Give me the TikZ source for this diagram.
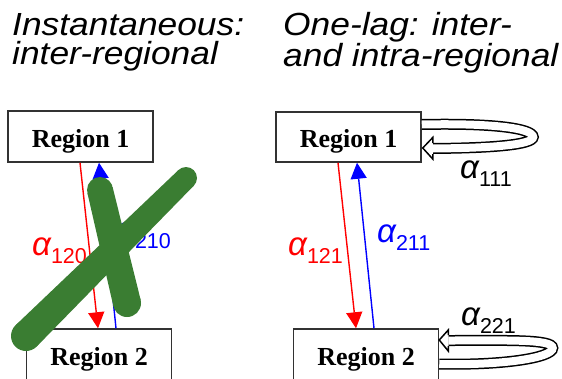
\documentclass[tikz,border=0pt]{standalone}
\usepackage{fontspec}
\setmainfont{Liberation Sans}
\newfontfamily\rgfont{Liberation Serif}
\usetikzlibrary{arrows.meta,calc}
\definecolor{xgreen}{RGB}{58,125,50}
\definecolor{boxgray}{RGB}{50,50,50}
\newcommand\myalpha[1]{{\itshape\fontsize{33}{33}\selectfont α}{\fontsize{21.5}{21.5}\selectfont\raisebox{-8pt}{#1}}}
\newcommand\wide[1]{\scalebox{1.105}[1]{#1}}
\begin{document}
\begin{tikzpicture}[x=1pt,y=-1pt,
  region/.style={draw=boxgray,line width=1.5pt,minimum width=145pt,minimum height=51pt,inner sep=0pt,text height=21pt,text depth=0pt,font=\rgfont\bfseries\fontsize{26}{26}\selectfont},
  title/.style={anchor=north west,inner sep=0pt,align=left,font=\itshape\fontsize{32}{29}\selectfont},
  link/.style={line width=1.4pt,-{Triangle[length=16pt,width=16pt]}},
  lbl/.style={anchor=base west,inner sep=0pt},
  loopline/.style={draw=black,line width=1.5pt,double=white,double distance=8pt},
  loophead/.style={draw=black,line width=1.5pt,fill=white,line join=miter}
]
\useasboundingbox (0,0) rectangle (562,378);

% titles
\node[title] (t1) at (12,13) {\wide{Instantaneous:}\\\wide{inter-regional}};
\node[title] (t2) at (283,12.5) {\wide{One-lag: inter-}\\\wide{and intra-regional}};

% boxes
\node[region] (L1) at (80.5,136.5) {Region 1};
\node[region] (L2) at (99,354.5) {Region 2};
\node[region,minimum height=50pt] (R1) at (348.5,137) {Region 1};
\node[region] (R2) at (366,354.5) {Region 2};

% left connectors
\draw[link,red] ([xshift=-0.5pt]L1.south) -- ([xshift=-1pt]L2.north);
\draw[link,blue] ([xshift=17pt]L2.north) -- ([xshift=18.5pt]L1.south);
\node[lbl,red] (la) at (32,255) {\myalpha{120}};
\node[lbl,blue] (lb) at (116,240) {\myalpha{210}};

% right connectors
\draw[link,red] ([xshift=-10.5pt]R1.south) -- ([xshift=-10pt]R2.north);
\draw[link,blue] ([xshift=8pt]R2.north) -- ([xshift=8.5pt]R1.south);
\node[lbl,red] (ra) at (288,255) {\myalpha{121}};
\node[lbl,blue] (rb) at (377,242) {\myalpha{211}};

% self loop region 1
\coordinate (a1) at ([yshift=12.5pt]R1.east);
\coordinate (b1) at ($(R1.east)+(11,11.5)$);
\draw[loopline] (a1) .. controls +(69,-1.5) and +(-0.5,-9) .. ($(R1.east)+(111.5,0)$)
   .. controls +(-0.5,8) and +(58,-0.5) .. (b1);
\draw[loophead] ($(b1)+(0,-5.5)$) -- ($(b1)+(0,-11)$) -- ($(b1)+(-10,-0.5)$) -- ($(b1)+(0,10.5)$) -- ($(b1)+(0,5.5)$);
\node[lbl] (rc) at (460,178) {\myalpha{111}};

% self loop region 2
\coordinate (a2) at ([yshift=-9.5pt]R2.east);
\coordinate (b2) at ($(R2.east)+(9,-14)$);
\draw[loopline] (a2) .. controls +(62,1.5) and +(0,10) .. ($(R2.east)+(113.5,-6.5)$)
   .. controls +(0,-9) and +(60,0) .. (b2);
\draw[loophead] ($(b2)+(0,-5.5)$) -- ($(b2)+(0,-10.5)$) -- ($(b2)+(-9,-0.5)$) -- ($(b2)+(0,10.5)$) -- ($(b2)+(0,5.5)$);
\node[lbl] (rd) at (461,325) {\myalpha{221}};

% green cross
\fill[xgreen] (87.4,193.0) -- (112.6,187.0) -- (140.6,299.7) -- (113.4,306.3) -- cycle;
\fill[xgreen] (100,190) circle (13);
\fill[xgreen] (127,303) circle (14);
\fill[xgreen] (178.3,170.2) -- (193.7,185.8) -- (36.5,346.7) -- (15.5,325.3) -- cycle;
\fill[xgreen] (186,178) circle (11);
\fill[xgreen] (26,336) circle (15);
\end{tikzpicture}
\end{document}
